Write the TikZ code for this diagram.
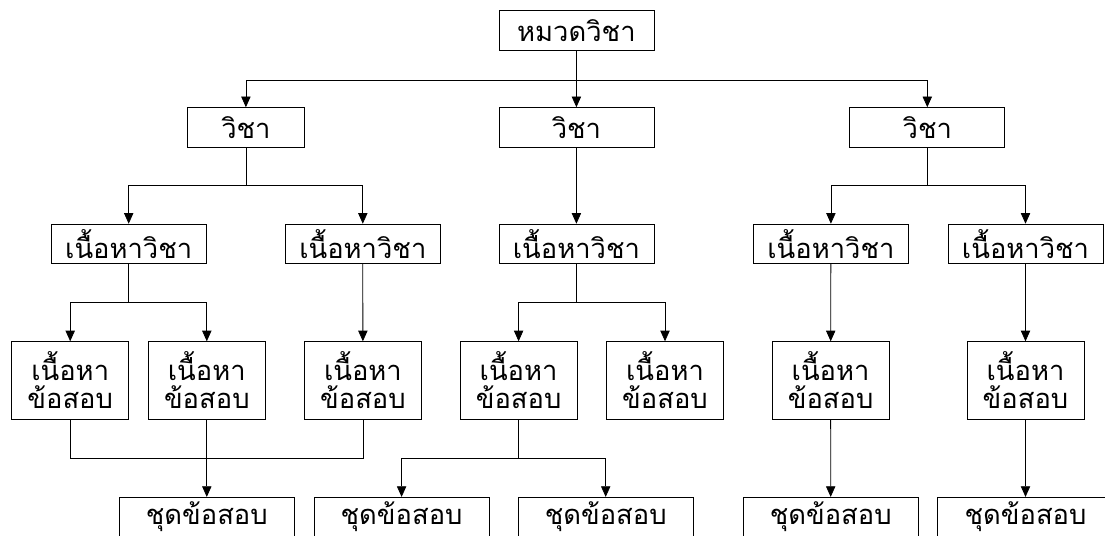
\documentclass[tikz,border=0pt]{standalone}
\usepackage{fontspec}
\newfontfamily\thaifont[Script=Thai]{Loma}
\usepackage{tikz}
\usetikzlibrary{arrows.meta}

\begin{document}
\begin{tikzpicture}[x=0.75pt, y=-0.75pt, line width=0.6pt,
  box/.style={draw, fill=white, inner sep=0pt, minimum height=29.5pt,
    minimum width=116.25pt, font=\thaifont\fontsize{20.5}{21}\selectfont},
  narrowbox/.style={box, minimum width=88pt},
  twoline/.style={box, minimum width=87.75pt, minimum height=58.2pt, align=center},
  setbox/.style={box, minimum width=131.5pt},
  arr/.style={-{Triangle[length=8pt, width=7pt]}}]
  \useasboundingbox (0,0) rectangle (1105,535);
  \clip (0,0) rectangle (1105,535);
  % bus levels
  \coordinate (bus1) at (0,80.7);
  \coordinate (bus2) at (0,185.7);
  \coordinate (bus3) at (0,302.7);
  \coordinate (bus4) at (0,458.3);
  % nodes
  \node[box] (top) at (576.4,30.3) {หมวดวิชา};
  \node[narrowbox] (v1) at (245.9,127.3) {วิชา};
  \node[box] (v2) at (576.4,127.3) {วิชา};
  \node[box] (v3) at (927.3,127.3) {วิชา};
  \node[box] (c1) at (128.7,243.8) {เนื้อหาวิชา};
  \node[box] (c2) at (362.8,243.8) {เนื้อหาวิชา};
  \node[box] (c3) at (576.4,243.8) {เนื้อหาวิชา};
  \node[box] (c4) at (830.9,243.8) {เนื้อหาวิชา};
  \node[box] (c5) at (1025.5,243.8) {เนื้อหาวิชา};
  \node[twoline] (q1) at (70.2,380.5) {เนื้อหา\\ข้อสอบ};
  \node[twoline] (q2) at (206.8,380.5) {เนื้อหา\\ข้อสอบ};
  \node[twoline] (q3) at (362.9,380.5) {เนื้อหา\\ข้อสอบ};
  \node[twoline] (q4) at (518.6,380.5) {เนื้อหา\\ข้อสอบ};
  \node[twoline] (q5) at (665,380.5) {เนื้อหา\\ข้อสอบ};
  \node[twoline] (q6) at (830.6,380.5) {เนื้อหา\\ข้อสอบ};
  \node[twoline] (q7) at (1025.5,380.5) {เนื้อหา\\ข้อสอบ};
  \node[setbox] (s1) at (206.8,517) {ชุดข้อสอบ};
  \node[setbox] (s2) at (401.6,517) {ชุดข้อสอบ};
  \node[setbox] (s3) at (605.7,517) {ชุดข้อสอบ};
  \node[setbox] (s4) at (830.7,517) {ชุดข้อสอบ};
  \node[setbox] (s5) at (1025.5,517) {ชุดข้อสอบ};
  % level 1 -> 2
  \draw[arr] (top) -- (v2);
  \draw[arr] (top.south |- bus1) -| (v1.north);
  \draw[arr] (top.south |- bus1) -| (v3.north);
  % level 2 -> 3
  \draw (v1.south) -- (v1.south |- bus2);
  \draw[arr] (v1.south |- bus2) -| (c1.north);
  \draw[arr] (v1.south |- bus2) -| (c2.north);
  \draw[arr] (v2) -- (c3);
  \draw (v3.south) -- (v3.south |- bus2);
  \draw[arr] (v3.south |- bus2) -| (c4.north);
  \draw[arr] (v3.south |- bus2) -| (c5.north);
  % level 3 -> 4
  \draw (c1.south) -- (c1.south |- bus3);
  \draw[arr] (c1.south |- bus3) -| (q1.north);
  \draw[arr] (c1.south |- bus3) -| (q2.north);
  \draw[arr] (c2) -- (q3);
  \draw (c3.south) -- (c3.south |- bus3);
  \draw[arr] (c3.south |- bus3) -| (q4.north);
  \draw[arr] (c3.south |- bus3) -| (q5.north);
  \draw[arr] (c4) -- (q6);
  \draw[arr] (c5) -- (q7);
  % level 4 -> 5
  \draw (q1.south) |- (q3.south |- bus4) -- (q3.south);
  \draw[arr] (q2) -- (s1);
  \draw (q4.south) -- (q4.south |- bus4);
  \draw[arr] (q4.south |- bus4) -| (s2.north);
  \draw[arr] (q4.south |- bus4) -| (s3.north);
  \draw[arr] (q6) -- (s4);
  \draw[arr] (q7) -- (s5);
\end{tikzpicture}
\end{document}
